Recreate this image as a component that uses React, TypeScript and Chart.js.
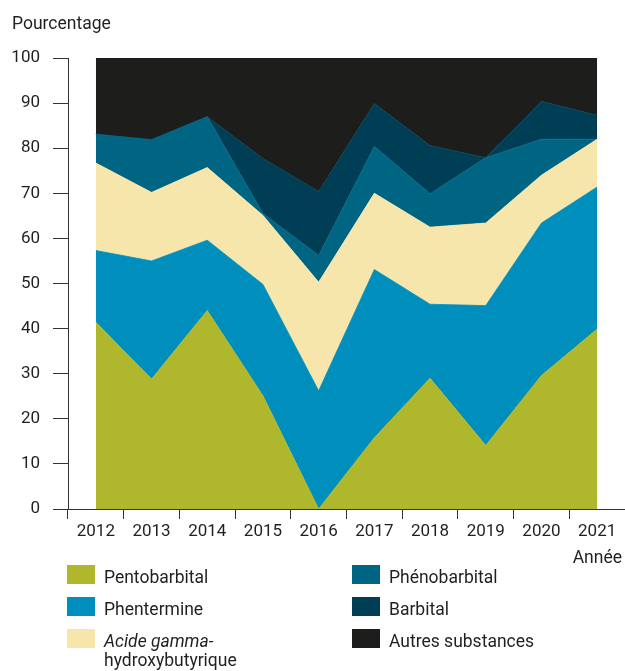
import React, { useEffect, useRef } from 'react';
import { Chart, registerables } from 'chart.js';

Chart.register(...registerables);

const years = ['2012', '2013', '2014', '2015', '2016', '2017', '2018', '2019', '2020', '2021'];
const pentobarbital = [41.4, 28.8, 44.0, 25.1, 0, 15.8, 29.0, 14.1, 29.6, 39.9];
const phentermine = [15.9, 26.2, 15.6, 24.7, 26.2, 37.3, 16.4, 31.0, 33.8, 31.5];
const ghb = [19.4, 15.2, 16.1, 15.3, 24.1, 16.9, 17.1, 18.3, 10.6, 10.6];
const phenobarbital = [6.4, 11.7, 11.3, 0.4, 5.9, 10.4, 7.4, 14.5, 8.0, 0];
const barbital = [0, 0, 0, 12.2, 14.2, 9.5, 10.7, 0, 8.4, 5.3];
const autres = [16.9, 18.1, 13.0, 22.3, 29.6, 10.1, 19.4, 22.1, 9.6, 12.7];

const seriesNames = ['Pentobarbital', 'Phentermine', 'Acide gamma-hydroxybutyrique', 'Phénobarbital', 'Barbital', 'Autres substances'];
const seriesColors = ['#AFB82C', '#008FBD', '#F6E6AB', '#006582', '#003E56', '#1D1D1B'];
const seriesValues = [pentobarbital, phentermine, ghb, phenobarbital, barbital, autres];

const yTitle = 'Pourcentage';
const xTitle = 'Année';

const FONT = 'Roboto, "Liberation Sans", sans-serif';
const TEXT = '#231F20';

const textPlugin = {
  id: 'customText',
  afterDraw(chart: any) {
    const ctx = chart.ctx as CanvasRenderingContext2D;
    ctx.save();
    ctx.fillStyle = TEXT;
    ctx.textBaseline = 'alphabetic';
    ctx.font = `17.5px ${FONT}`;
    ctx.textAlign = 'left';
    ctx.fillText(yTitle, 12, 29);
    ctx.textAlign = 'right';
    ctx.fillText(xTitle, 622, 563);

    // legend
    const cols = [67, 352];
    const rows = [565, 597, 629];
    const order = [
      [0, 0, 0],
      [1, 0, 1],
      [2, 0, 2],
      [3, 1, 0],
      [4, 1, 1],
      [5, 1, 2],
    ];
    ctx.textAlign = 'left';
    order.forEach(([i, c, r]) => {
      const bx = cols[c];
      const by = rows[r];
      ctx.fillStyle = seriesColors[i];
      ctx.fillRect(bx, by, 28, 19);
      ctx.fillStyle = TEXT;
      const tx = bx + 37;
      const ty = by + 18;
      if (i === 2) {
        ctx.font = `italic 17.5px ${FONT}`;
        ctx.fillText('Acide gamma-', tx, ty);
        ctx.font = `17.5px ${FONT}`;
        ctx.fillText('hydroxybutyrique', tx, ty + 19);
      } else {
        ctx.font = `17.5px ${FONT}`;
        ctx.fillText(seriesNames[i], tx, ty);
      }
    });
    ctx.restore();
  },
};

export default function App() {
  const ref = useRef<HTMLCanvasElement | null>(null);

  useEffect(() => {
    document.body.style.margin = '0';
    const canvas = ref.current!;
    const chart = new Chart(canvas, {
      type: 'line',
      data: {
        labels: years,
        datasets: seriesValues.map((vals, i) => ({
          label: seriesNames[i],
          data: vals,
          backgroundColor: seriesColors[i],
          borderColor: seriesColors[i],
          borderWidth: 0.8,
          pointRadius: 0,
          tension: 0,
          fill: i === 0 ? 'origin' : '-1',
        })),
      },
      options: {
        animation: false,
        responsive: false,
        devicePixelRatio: 1,
        layout: { padding: { top: 58, right: 0, bottom: 0, left: 0 } },
        plugins: {
          legend: { display: false },
          tooltip: { enabled: false },
        },
        scales: {
          x: {
            type: 'category',
            offset: true,
            grid: {
              offset: true,
              drawOnChartArea: false,
              drawTicks: true,
              tickLength: 10,
              color: '#333',
            },
            border: { display: true, color: '#333', width: 1 },
            ticks: {
              color: TEXT,
              font: { family: FONT, size: 17 },
              padding: 3,
              maxRotation: 0,
              autoSkip: false,
            },
            afterFit(scale: any) {
              scale.height = 162;
            },
          },
          y: {
            stacked: true,
            min: 0,
            max: 100,
            ticks: {
              stepSize: 10,
              color: TEXT,
              font: { family: FONT, size: 17 },
              padding: 13,
            },
            grid: {
              drawOnChartArea: false,
              drawTicks: true,
              tickLength: 15,
              color: '#333',
            },
            border: { display: true, color: '#333', width: 1 },
            afterFit(scale: any) {
              scale.width = 68;
            },
          },
        },
      },
      plugins: [textPlugin],
    });
    return () => chart.destroy();
  }, []);

  return (
    <div style={{ width: 625, height: 671, position: 'relative' }}>
      <canvas ref={ref} width={625} height={671} style={{ display: 'block' }} />
    </div>
  );
}
